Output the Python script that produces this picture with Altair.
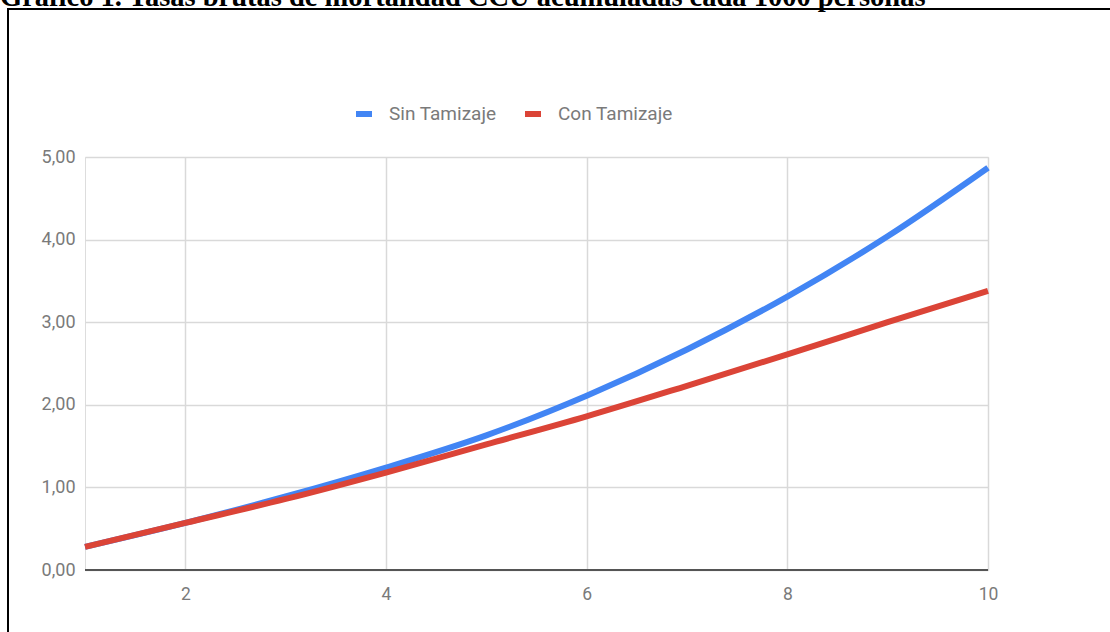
import altair as alt
import pandas as pd

# Accumulated crude mortality rates per 1000 people, by year
anios = [1, 2, 3, 4, 5, 6, 7, 8, 9, 10]
sin_tamizaje = [0.28, 0.57, 0.89, 1.24, 1.63, 2.11, 2.67, 3.31, 4.04, 4.87]
con_tamizaje = [0.28, 0.57, 0.86, 1.18, 1.52, 1.86, 2.23, 2.61, 3.00, 3.38]
series = ["Sin Tamizaje", "Con Tamizaje"]
colores = ["#4285F4", "#DB4437"]
y_ticks = [0, 1, 2, 3, 4, 5]
x_ticks = [2, 4, 6, 8, 10]
titulo = "Gráfico 1. Tasas brutas de mortalidad CCU acumuladas cada 1000 personas"

df = pd.DataFrame(
    {"anio": anios * 2,
     "tasa": sin_tamizaje + con_tamizaje,
     "serie": [series[0]] * len(anios) + [series[1]] * len(anios)}
)

W, H = 903, 413
FONT = "Roboto"
GRAY = "#7a7a7a"

lines = alt.Chart(df).mark_line(strokeWidth=6, interpolate="monotone").encode(
    x=alt.X("anio:Q", scale=alt.Scale(domain=[1, 10], nice=False),
            axis=alt.Axis(values=x_ticks, title=None, grid=True, gridColor="#d9d9d9",
                          gridWidth=1.5, domain=False, ticks=False, labelFontSize=17.5,
                          labelColor=GRAY, labelFont=FONT, labelPadding=15,
                          labelFlush=False)),
    y=alt.Y("tasa:Q", scale=alt.Scale(domain=[0, 5], nice=False),
            axis=alt.Axis(values=y_ticks, title=None, grid=True, gridColor="#d9d9d9",
                          gridWidth=1.5, domain=False, ticks=False, labelFontSize=18,
                          labelColor=GRAY, labelFont=FONT, labelPadding=10,
                          labelExpr="replace(format(datum.value, '.2f'), '.', ',')")),
    color=alt.Color("serie:N", scale=alt.Scale(domain=series, range=colores),
                    sort=series,
                    legend=alt.Legend(title=None, orient="none", legendX=268, legendY=-54,
                                      direction="horizontal", symbolType="M-1,0H1",
                                      symbolSize=256, symbolStrokeWidth=6,
                                      labelFontSize=19, labelColor=GRAY, labelFont=FONT,
                                      labelOffset=14, columnPadding=16)),
)

baseline = alt.Chart(pd.DataFrame({"y": [0]})).mark_rule(color="#555555", strokeWidth=2).encode(
    y="y:Q"
)

frame = alt.Chart(pd.DataFrame({"t": [0]})).mark_rect(
    fill=None, stroke="#000000", strokeWidth=2
).encode(
    x=alt.value(-77), x2=alt.value(1200), y=alt.value(-148), y2=alt.value(700)
)

title = alt.Chart(pd.DataFrame({"t": [titulo]})).mark_text(
    align="left", baseline="alphabetic", font="Liberation Serif", fontWeight="bold",
    fontSize=28.5, color="#000000"
).encode(x=alt.value(-85), y=alt.value(-151), text="t:N")

chart = alt.layer(baseline, lines, frame, title).properties(
    width=W, height=H,
    padding={"left": 85, "top": 157, "right": 122, "bottom": 62},
    autosize=alt.AutoSizeParams(type="none"),
).configure_view(stroke=None).configure(background="white")

chart.save("out.html", embed_options={"renderer": "svg", "actions": False})
